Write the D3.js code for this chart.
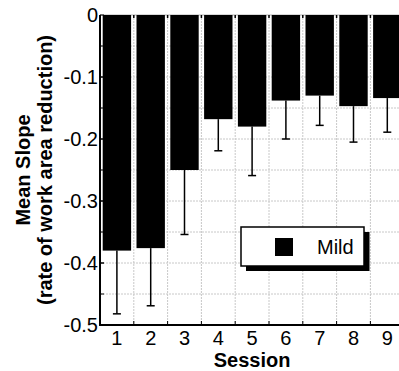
<!DOCTYPE html>
<html><head><meta charset="utf-8">
<script src="https://cdn.jsdelivr.net/npm/d3@7"></script>
<style>body{margin:0;background:#fff}svg{display:block}text{font-family:"Liberation Sans",Arial,sans-serif}</style>
</head><body><svg id="c" width="399" height="371"></svg>
<script>
const sessions = ["1","2","3","4","5","6","7","8","9"];
const meanSlope = [-0.380,-0.376,-0.250,-0.168,-0.180,-0.138,-0.130,-0.147,-0.134];
const errLow = [0.102,0.093,0.104,0.051,0.079,0.062,0.048,0.058,0.055];
const yTicks = [0,-0.1,-0.2,-0.3,-0.4,-0.5];
const yTickLabels = ["0","-0.1","-0.2","-0.3","-0.4","-0.5"];
const yGrid = [-0.05,-0.1,-0.15,-0.2,-0.25,-0.3,-0.35,-0.4,-0.45];
const seriesName = "Mild";

const svg = d3.select("#c");
const L=100, R=404.2, T=15, B=325;
const x = d3.scaleBand().domain(sessions).range([L,R]).padding(0);
const y = d3.scaleLinear().domain([-0.5,0]).range([B,T]);
const bw = x.bandwidth()*0.84;

// grid
const g = svg.append("g");
g.selectAll(".hg").data(yGrid).join("line")
  .attr("x1",L).attr("x2",R).attr("y1",d=>y(d)).attr("y2",d=>y(d))
  .attr("stroke","#c8c8c8").attr("stroke-width",1).attr("stroke-dasharray","2,1");
g.selectAll(".vg").data(sessions.slice(1)).join("line")
  .attr("x1",d=>x(d)).attr("x2",d=>x(d)).attr("y1",T).attr("y2",B)
  .attr("stroke","#c8c8c8").attr("stroke-width",1).attr("stroke-dasharray","2,1");
// top border
svg.append("line").attr("x1",L).attr("x2",399).attr("y1",T).attr("y2",T).attr("stroke","#b0b0b0").attr("stroke-width",1);

// bars
svg.selectAll(".bar").data(sessions).join("rect")
  .attr("x",d=>x(d)+(x.bandwidth()-bw)/2).attr("width",bw)
  .attr("y",y(0)).attr("height",(d,i)=>y(meanSlope[i])-y(0))
  .attr("fill","#000");

// error bars
const eb = svg.append("g").attr("stroke","#000").attr("stroke-width",1.5);
sessions.forEach((s,i)=>{
  const cx = x(s)+x.bandwidth()/2;
  const y1 = y(meanSlope[i]), y2 = y(meanSlope[i]-errLow[i]);
  eb.append("line").attr("x1",cx).attr("x2",cx).attr("y1",y1).attr("y2",y2);
  eb.append("line").attr("x1",cx-4).attr("x2",cx+4).attr("y1",y2).attr("y2",y2);
});

// axes
const ax = svg.append("g").attr("stroke","#000");
ax.append("line").attr("x1",L).attr("x2",L).attr("y1",T).attr("y2",B+1).attr("stroke-width",2);
ax.append("line").attr("x1",L).attr("x2",399).attr("y1",B).attr("y2",B).attr("stroke-width",2);
// y ticks (inward) at every 0.05
ax.selectAll(".yt").data(yTicks.concat(yGrid)).join("line")
  .attr("x1",L).attr("x2",L+4).attr("y1",d=>y(d)).attr("y2",d=>y(d)).attr("stroke-width",1);
// x ticks at boundaries
ax.selectAll(".xt").data(sessions.slice(1)).join("line")
  .attr("x1",d=>x(d)).attr("x2",d=>x(d)).attr("y1",B).attr("y2",B-4).attr("stroke-width",1);
ax.selectAll(".xtt").data(sessions.slice(1)).join("line")
  .attr("x1",d=>x(d)).attr("x2",d=>x(d)).attr("y1",T).attr("y2",T+3).attr("stroke-width",1.5);

// tick labels
svg.selectAll(".yl").data(yTicks).join("text")
  .attr("x",L-2).attr("y",d=>y(d)).attr("dy","0.36em").attr("text-anchor","end")
  .attr("font-size",20).text((d,i)=>yTickLabels[i]);
svg.selectAll(".xl").data(sessions).join("text")
  .attr("x",d=>x(d)+x.bandwidth()/2).attr("y",B+20).attr("text-anchor","middle")
  .attr("font-size",20).text(d=>d);

// titles
svg.append("text").attr("x",(L+R)/2).attr("y",367).attr("text-anchor","middle")
  .attr("font-size",20).attr("font-weight","bold").text("Session");
const yt = svg.append("text").attr("transform",`translate(0,${(T+B)/2}) rotate(-90)`)
  .attr("text-anchor","middle").attr("font-size",20).attr("font-weight","bold");
yt.append("tspan").attr("x",0).attr("y",30).text("Mean Slope");
yt.append("tspan").attr("x",0).attr("y",52).text("(rate of work area reduction)");

// legend
const lg = svg.append("g");
lg.append("rect").attr("x",246).attr("y",232).attr("width",123.5).attr("height",39).attr("fill","#000");
lg.append("rect").attr("x",241).attr("y",227).attr("width",123).attr("height",39)
  .attr("fill","#fff").attr("stroke","#000").attr("stroke-width",1.5);
lg.append("rect").attr("x",275).attr("y",238).attr("width",18).attr("height",18).attr("fill","#000");
lg.append("text").attr("x",317).attr("y",254).attr("font-size",20).text(seriesName);
</script></body></html>
